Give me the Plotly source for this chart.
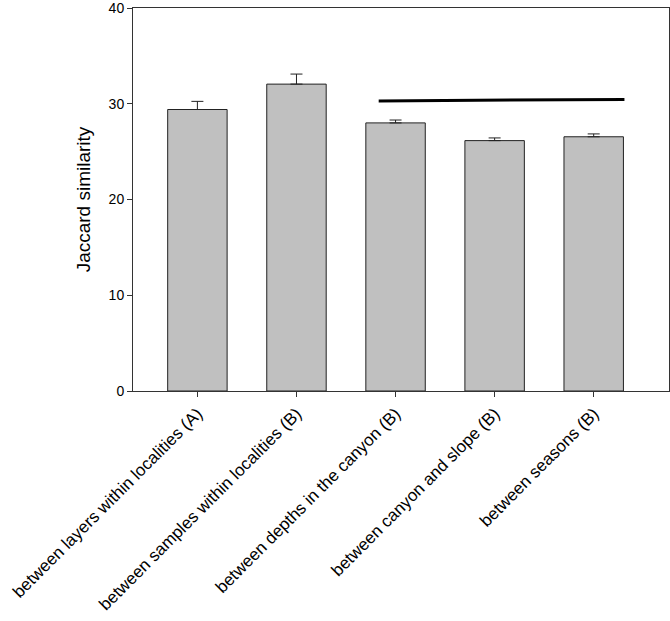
import plotly.graph_objs as go

categories = [
    "between layers within localities (A)",
    "between samples within localities (B)",
    "between depths in the canyon (B)",
    "between canyon and slope (B)",
    "between seasons (B)",
]
similarity = [29.4, 32.05, 28.0, 26.15, 26.55]
similarity_err = [0.85, 1.05, 0.3, 0.28, 0.3]

# horizontal bar joining the (B) groups that do not differ
line_x = [1.83, 4.31]
line_y = [30.3, 30.45]


def main():
    positions = list(range(len(categories)))

    fig = go.Figure()

    fig.add_trace(
        go.Bar(
            x=positions,
            y=similarity,
            width=0.6,
            marker=dict(color="#c0c0c0", line=dict(color="#222222", width=1)),
            error_y=dict(
                type="data",
                array=similarity_err,
                symmetric=False,
                arrayminus=[0] * len(similarity_err),
                color="#222222",
                thickness=1,
                width=6,
            ),
            showlegend=False,
        )
    )

    fig.add_trace(
        go.Scatter(
            x=line_x,
            y=line_y,
            mode="lines",
            line=dict(color="black", width=3),
            showlegend=False,
        )
    )

    fig.update_layout(
        width=670,
        height=621,
        margin=dict(l=133, r=1, t=8, b=230),
        plot_bgcolor="white",
        paper_bgcolor="white",
        font=dict(family="Arial, Liberation Sans, sans-serif", size=15, color="black"),
        xaxis=dict(
            range=[-0.65, 4.76],
            tickvals=positions,
            ticktext=categories,
            tickangle=-45,
            ticks="outside",
            ticklen=5,
            tickcolor="#333333",
            showline=True,
            linecolor="#333333",
            linewidth=1,
            mirror=True,
            showgrid=False,
            zeroline=False,
            automargin=False,
            tickfont=dict(size=17),
        ),
        yaxis=dict(
            title=dict(text="Jaccard similarity", font=dict(size=19), standoff=12),
            range=[0, 40],
            tickvals=[0, 10, 20, 30, 40],
            ticks="outside",
            ticklen=5,
            tickcolor="#333333",
            showline=True,
            linecolor="#333333",
            linewidth=1,
            mirror=True,
            showgrid=False,
            zeroline=False,
            automargin=False,
            ticklabeloverflow="allow",
            tickfont=dict(size=14),
        ),
    )

    # drop the page's default body margin so the figure sits at the top-left corner
    fig.write_html(
        "out.html",
        config={"displayModeBar": False},
        post_script="document.body.style.margin = '0';",
    )


if __name__ == "__main__":
    main()
